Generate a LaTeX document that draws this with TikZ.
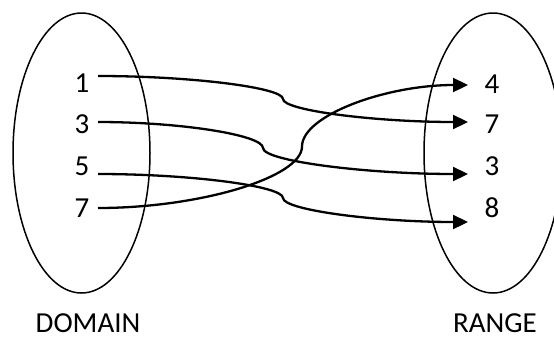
\documentclass[tikz,border=0pt]{standalone}
\usepackage{fontspec}
\setmainfont{Carlito}
\usetikzlibrary{arrows.meta,shapes.geometric}
\begin{document}
\begin{tikzpicture}[x=1pt,y=-1pt,
  setline/.style={line width=1.5pt},
  setshape/.style={setline,draw,ellipse,minimum width=137pt,minimum height=280pt,inner sep=0pt},
  conn/.style={line width=2.3pt,-{Triangle[length=15pt,width=14pt]}},
  lab/.style={anchor=base,inner sep=0pt,text depth=0pt,font=\fontsize{29}{34}\selectfont}]
\useasboundingbox (0,0) rectangle (554,338);
\clip (0,0) rectangle (554,338);
% sets
\node[setshape] (dom) at (81.5,153) {};
\node[setshape,minimum width=138pt] (rng) at (493,153) {};
% labels
\node[lab] (d1) at (82,92) {1};
\node[lab] (d3) at (82,133) {3};
\node[lab] (d5) at (82,175) {5};
\node[lab] (d7) at (82,217) {7};
\node[lab] (r4) at (492,93) {4};
\node[lab] (r7) at (492,133) {7};
\node[lab] (r3) at (492,175) {3};
\node[lab] (r8) at (492,217) {8};
\node[lab] (domain) at (88,332) {DOMAIN};
\node[lab] (range) at (495,332) {RANGE};
% connector ends
\coordinate (s1) at (98,76);
\coordinate (s3) at (98,122);
\coordinate (s5) at (98,174);
\coordinate (s7) at (98,208);
\coordinate (e4) at (468,85);
\coordinate (e7) at (468,122);
\coordinate (e3) at (468,174);
\coordinate (e8) at (468,222);
% connectors
\draw[conn] (s1) .. controls (190.5,76) and (283,87.5) .. (283,99)
                 .. controls (283,110.5) and (375.5,122) .. (e7);
\draw[conn] (s3) .. controls (180.5,122) and (263,135) .. (263,148)
                 .. controls (263,161) and (365.5,174) .. (e3);
\draw[conn] (s5) .. controls (190.5,174) and (283,186) .. (283,198)
                 .. controls (283,210) and (375.5,222) .. (e8);
\draw[conn] (s7) .. controls (200,208) and (302,177.25) .. (302,146.5)
                 .. controls (302,115.75) and (385,85) .. (e4);
\end{tikzpicture}
\end{document}
